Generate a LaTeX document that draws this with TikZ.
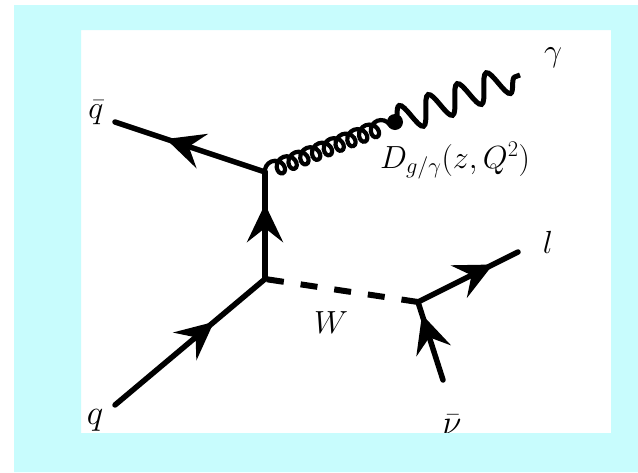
\RequirePackage{fix-cm}
\documentclass[tikz,border=0pt]{standalone}
\usetikzlibrary{arrows.meta,decorations.markings,decorations.pathmorphing}
\definecolor{framecyan}{RGB}{200,252,253}
\begin{document}
\begin{tikzpicture}[x=1pt,y=-1pt,
  lbl/.style={inner sep=0pt, font=\fontsize{32}{36}\selectfont},
  biglbl/.style={inner sep=0pt, font=\fontsize{35}{40}\selectfont},
  fline/.style={line width=5.5pt, line cap=round},
  farrow/.style={postaction={decorate}, decoration={markings,
    mark=at position #1 with {\arrow{Stealth[length=38pt,width=36pt,inset=14pt]}}}},
  wline/.style={line width=6pt, dash pattern=on 17pt off 17pt, dash phase=-2pt},
  gluon/.style={line width=4.2pt, decorate, decoration={coil, aspect=0.9, segment length=12.6pt, amplitude=7.5pt}},
  photon/.style={line width=5pt, decorate, decoration={snake, segment length=31pt, amplitude=14pt}}
]
\useasboundingbox (0,0) rectangle (638,472);
\fill[white] (0,0) rectangle (638,472);

% vertices and free ends
\coordinate (v1) at (265,172);
\coordinate (v2) at (265,279);
\coordinate (v3) at (418,302);
\coordinate (qbarend) at (115,122);
\coordinate (qend) at (115,405);
\coordinate (lend) at (518,252);
\coordinate (nuend) at (443,380);
\coordinate (blob) at (395,122);
\coordinate (gamend) at (520,75);

% fermion lines
\draw[fline, farrow=0.66] (v1) -- (qbarend);
\draw[fline, farrow=0.70] (v2) -- (v1);
\draw[fline, farrow=0.66] (qend) -- (v2);
\draw[fline, farrow=0.75] (v3) -- (lend);
\draw[fline, farrow=0.84] (nuend) -- (v3);

% W boson
\draw[wline] (v2) -- (v3);

% gluon and photon
\draw[gluon] (v1) -- (blob);
\draw[photon] (blob) -- (gamend);
\fill (blob) circle (8pt);

% labels
\node[lbl, anchor=base] (qbarlbl) at (96,118) {$\bar q$};
\node[biglbl, anchor=base] (qlbl) at (95,424) {$q$};
\node[lbl, anchor=base] (gamlbl) at (553,61) {$\gamma$};
\node[lbl, anchor=base] (llbl) at (548,253) {$l$};
\node[lbl, anchor=base] (wlbl) at (331,333) {$W$};
\node[biglbl, anchor=base] (nulbl) at (452,434) {$\bar\nu$};
\node[lbl, anchor=base west] (dlbl) at (380,168) {$D_{g/\gamma}(z,Q^2)$};

% cyan frame on top
\fill[framecyan, even odd rule] (14,5) rectangle (638,472) (81,30) rectangle (611,433);
\end{tikzpicture}
\end{document}
